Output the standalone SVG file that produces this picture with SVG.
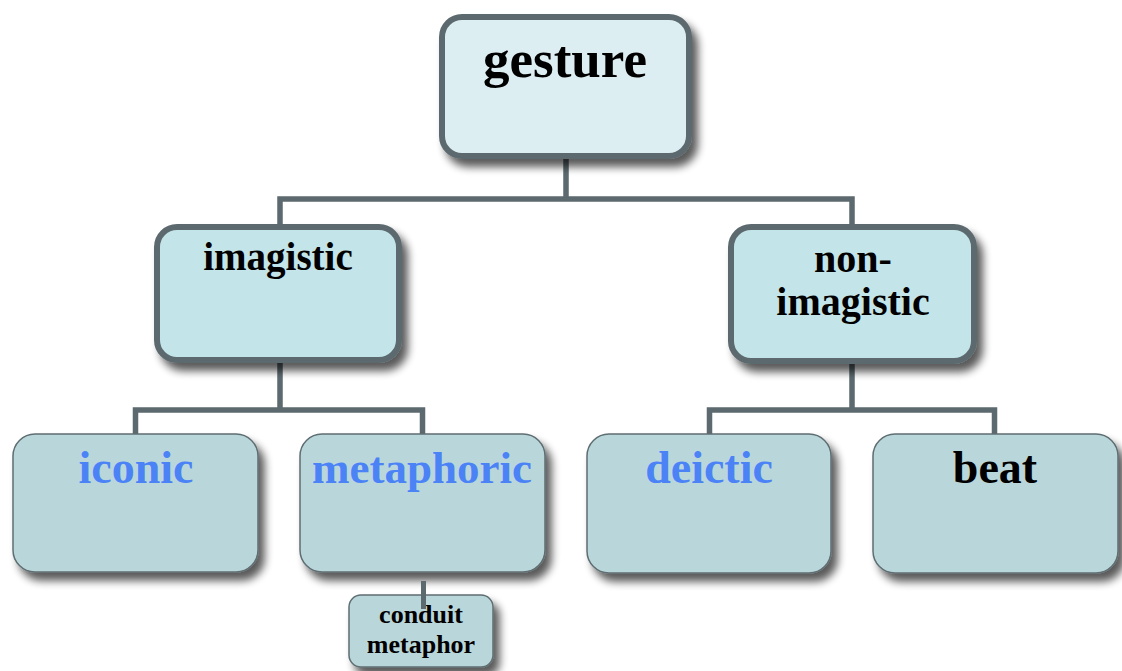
<svg xmlns="http://www.w3.org/2000/svg" width="1122" height="671" viewBox="0 0 1122 671">
  <defs>
    <filter id="shadow" x="-20%" y="-20%" width="150%" height="150%">
      <feGaussianBlur in="SourceAlpha" stdDeviation="4"/>
      <feOffset dx="6" dy="8" result="blur"/>
      <feComponentTransfer><feFuncA type="linear" slope="0.65"/></feComponentTransfer>
      <feMerge><feMergeNode/><feMergeNode in="SourceGraphic"/></feMerge>
    </filter>
    <style>
      .top { fill: #ddeef2; stroke: #5c6a6f; stroke-width: 6; filter: url(#shadow); }
      .mid { fill: #c3e4e8; stroke: #5c6a6f; stroke-width: 6; filter: url(#shadow); }
      .leaf { fill: #b9d7db; stroke: #5f6e72; stroke-width: 1.5; filter: url(#shadow); }
      .lbl { font-family: "Liberation Serif", "Times New Roman", serif; font-weight: bold; text-anchor: middle; fill: #000; }
      .blue { fill: #4b83f7; }
      .wire { fill: none; stroke: #5c6a6f; stroke-width: 5.5; stroke-linecap: butt; stroke-linejoin: miter; }
    </style>
  </defs>
  <rect width="1122" height="671" fill="#ffffff"/>

  <!-- tree connectors -->
  <g id="connectors">
    <path class="wire" d="M566 158 V199 M280 227 V199 H852 V227"/>
    <path class="wire" d="M280 362 V410 M135.5 434 V410 H422.5 V434"/>
    <path class="wire" d="M852 363 V410 M709.5 434 V410 H994.5 V434"/>
  </g>

  <g id="node-gesture">
    <rect class="top" x="442" y="17" width="247" height="139" rx="20"/>
    <text class="lbl" x="565" y="77" font-size="53">gesture</text>
  </g>

  <g id="node-imagistic">
    <rect class="mid" x="157" y="227" width="242" height="133" rx="20"/>
    <text class="lbl" x="278" y="270" font-size="39">imagistic</text>
  </g>

  <g id="node-non-imagistic">
    <rect class="mid" x="731" y="227" width="243" height="134" rx="20"/>
    <text class="lbl" x="853" y="272" font-size="40">non-</text>
    <text class="lbl" x="853" y="315" font-size="40">imagistic</text>
  </g>

  <g id="node-iconic">
    <rect class="leaf" x="13" y="434" width="245" height="138" rx="22"/>
    <text class="lbl blue" x="136" y="483" font-size="46">iconic</text>
  </g>

  <g id="node-metaphoric">
    <rect class="leaf" x="300" y="434" width="245" height="138" rx="22"/>
    <text class="lbl blue" x="422" y="483" font-size="45">metaphoric</text>
  </g>

  <g id="node-deictic">
    <rect class="leaf" x="587" y="434" width="244" height="139" rx="22"/>
    <text class="lbl blue" x="709" y="483" font-size="46">deictic</text>
  </g>

  <g id="node-beat">
    <rect class="leaf" x="873" y="434" width="245" height="139" rx="22"/>
    <text class="lbl" x="995" y="483" font-size="46">beat</text>
  </g>

  <g id="node-conduit-metaphor">
    <rect class="leaf" x="349" y="595" width="144" height="72" rx="12"/>
    <text class="lbl" x="421" y="623" font-size="26">conduit</text>
    <text class="lbl" x="421" y="653" font-size="26">metaphor</text>
  </g>

  <!-- short link from metaphoric down into conduit metaphor -->
  <g id="connector-conduit">
    <path class="wire" d="M423.5 581 V609" style="stroke-width:5"/>
  </g>
</svg>
